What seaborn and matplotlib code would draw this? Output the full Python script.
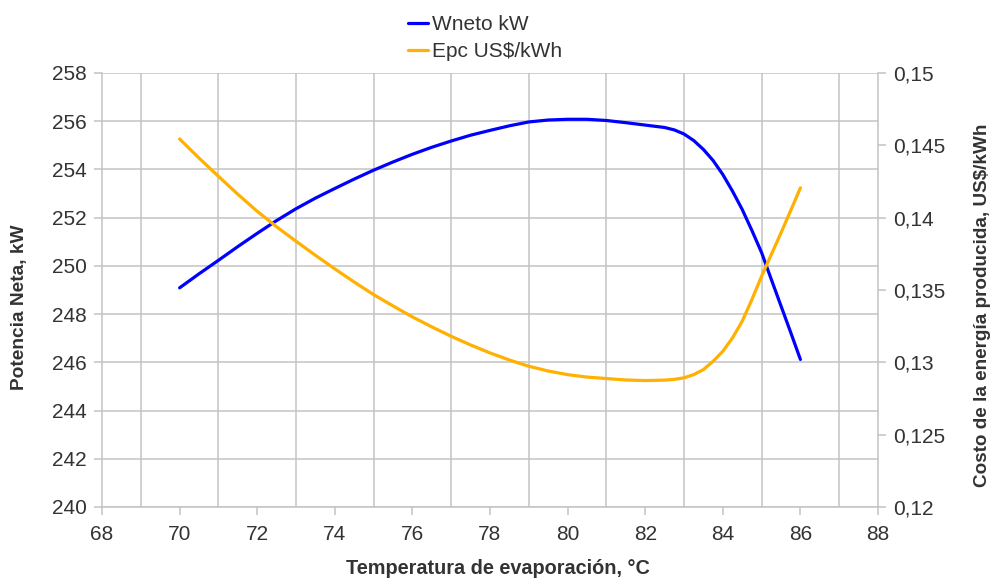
import matplotlib
matplotlib.use("Agg")
import matplotlib.pyplot as plt
import numpy as np
import pandas as pd
import seaborn as sns
from matplotlib.ticker import MultipleLocator, FuncFormatter

# Temperatura de evaporación (°C)
temperatura = [70, 70.5, 71, 71.5, 72, 72.5, 73, 73.5, 74, 74.5, 75, 75.5,
               76, 76.5, 77, 77.5, 78, 78.5, 79, 79.5, 80, 80.5, 81, 81.5,
               82, 82.5, 82.75, 83, 83.25, 83.5, 83.75, 84, 84.25, 84.5,
               84.75, 85, 85.25, 85.5, 85.75, 86]

# Potencia neta (kW)
wneto = [249.09, 249.67, 250.23, 250.80, 251.35, 251.88, 252.37, 252.81,
         253.21, 253.60, 253.97, 254.31, 254.63, 254.92, 255.18, 255.42,
         255.62, 255.81, 255.97, 256.05, 256.08, 256.08, 256.03, 255.94,
         255.84, 255.74, 255.64, 255.47, 255.20, 254.83, 254.37, 253.79,
         253.10, 252.34, 251.47, 250.55, 249.44, 248.34, 247.24, 246.12]

# Costo de la energía producida (US$/kWh)
epc = [0.14544, 0.14412, 0.14286, 0.14162, 0.14044, 0.13937, 0.13837,
       0.13740, 0.13646, 0.13555, 0.13468, 0.13390, 0.13314, 0.13245,
       0.13180, 0.13120, 0.13065, 0.13016, 0.12973, 0.12940, 0.12915,
       0.12898, 0.12888, 0.12878, 0.12874, 0.12877, 0.12882, 0.12893,
       0.12915, 0.12950, 0.13007, 0.13076, 0.13169, 0.13284, 0.13434,
       0.13595, 0.13745, 0.13895, 0.14049, 0.14206]

serie_w = "Wneto kW"
serie_e = "Epc US$/kWh"

sns.set_theme(style="white")
plt.rcParams["font.family"] = ["Liberation Sans", "DejaVu Sans"]

df = pd.DataFrame({"Temperatura": temperatura, serie_w: wneto, serie_e: epc})

GRID = "#c3c3c3"
TEXT = "#333333"
BLUE = "#0000ff"
GOLD = "#ffb000"

fig = plt.figure(figsize=(9.95, 5.79), dpi=100)
fig.patch.set_facecolor("white")
ax = fig.add_axes([102 / 995, 1 - 507 / 579, 776 / 995, 434 / 579])
ax2 = ax.twinx()

sns.lineplot(data=df, x="Temperatura", y=serie_w, ax=ax, color=BLUE,
             linewidth=2.3, label=serie_w, legend=False)
sns.lineplot(data=df, x="Temperatura", y=serie_e, ax=ax2, color=GOLD,
             linewidth=2.3, label=serie_e, legend=False)
for line in ax.get_lines() + ax2.get_lines():
    line.set_solid_joinstyle("round")

# Left axis / x axis
ax.set_xlim(68, 88)
ax.set_ylim(240, 258)
ax.xaxis.set_major_locator(MultipleLocator(2))
ax.xaxis.set_minor_locator(MultipleLocator(2, offset=1))
ax.yaxis.set_major_locator(MultipleLocator(2))
ax.grid(False)
ax.grid(which="minor", axis="x", color=GRID, linewidth=1.1)
ax.grid(which="major", axis="y", color=GRID, linewidth=1.1)
ax.set_axisbelow(True)

ax.tick_params(axis="x", which="major", direction="out", length=6, width=1.1,
               color=GRID, pad=7, labelsize=15, labelcolor=TEXT, bottom=True)
ax.tick_params(axis="x", which="minor", length=0)
ax.tick_params(axis="y", which="major", direction="out", length=6, width=1.1,
               color=GRID, pad=5, labelsize=15, labelcolor=TEXT, left=True)

for side in ("top", "right"):
    ax.spines[side].set_visible(False)
for side in ("left", "bottom"):
    ax.spines[side].set_color(GRID)
    ax.spines[side].set_linewidth(1.1)

# Right axis
ax2.set_ylim(0.12, 0.15)
ax2.yaxis.set_major_locator(MultipleLocator(0.005))
ax2.yaxis.set_major_formatter(
    FuncFormatter(lambda v, pos: f"{round(v, 4):g}".replace(".", ",")))
ax2.grid(False)
ax2.tick_params(axis="y", direction="out", length=6, width=1.1, color=GRID,
                pad=5, labelsize=15, labelcolor=TEXT, right=True)
for side in ("top", "left", "bottom"):
    ax2.spines[side].set_visible(False)
ax2.spines["right"].set_color(GRID)
ax2.spines["right"].set_linewidth(1.1)

# Axis titles
ax.set_xlabel("Temperatura de evaporación, °C", fontsize=14.3,
              fontweight="bold", color=TEXT)
ax.set_ylabel("Potencia Neta, kW", fontsize=13.8, fontweight="bold",
              color=TEXT)
ax2.set_ylabel("Costo de la energía producida, US$/kWh", fontsize=13.6,
               fontweight="bold", color=TEXT, rotation=90)

ax.xaxis.set_label_coords((498 - 102) / 776, (507 - 569) / 434)
ax.xaxis.label.set_va("center")
ax.yaxis.set_label_coords((19.5 - 102) / 776, (507 - 307) / 434)
ax.yaxis.label.set_va("center")
ax.yaxis.label.set_ha("center")
ax2.yaxis.set_label_coords((983 - 102) / 776, (507 - 305) / 434)
ax2.yaxis.label.set_va("center")
ax2.yaxis.label.set_ha("center")

# Legend
handles = ax.get_lines()[:1] + ax2.get_lines()[:1]
fig.legend(handles, [serie_w, serie_e], loc="upper left",
           bbox_to_anchor=(408 / 995, 1 - 15 / 579), frameon=False,
           fontsize=15, handlelength=0.95, handletextpad=0.2,
           labelspacing=0.4, borderpad=0, borderaxespad=0,
           labelcolor=TEXT)

fig.savefig("out.png", dpi=100, facecolor="white")
